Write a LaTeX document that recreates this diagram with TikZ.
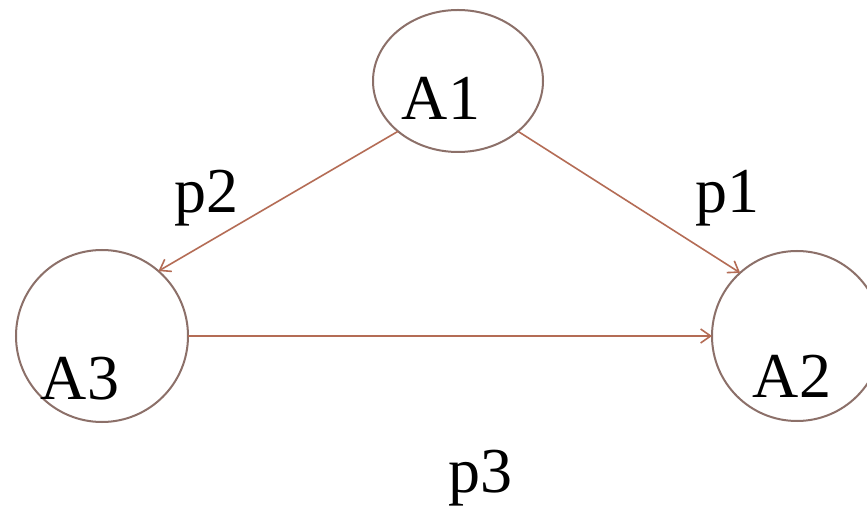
\documentclass[tikz,border=0pt]{standalone}
\usepackage{fontspec}
\setmainfont{Liberation Serif}
\usetikzlibrary{shapes.geometric,arrows.meta}
\definecolor{ringcol}{RGB}{140,112,105}
\definecolor{arrcol}{RGB}{180,108,85}
\begin{document}
\begin{tikzpicture}[x=0.5pt,y=-0.5pt,
  ring/.style={draw=ringcol,line width=1pt,inner sep=0pt,outer sep=0pt},
  conn/.style={draw=arrcol,line width=0.8pt,-{Straight Barb[length=5pt,width=7pt]}},
  lbl/.style={anchor=base,inner sep=0pt,font=\fontsize{32}{38}\selectfont}]
\clip (0,0) rectangle (867,507);
\fill[white] (0,0) rectangle (867,507);
\node[ring,ellipse,minimum width=85pt,minimum height=71pt] (A1) at (458,81) {};
\node[ring,circle,minimum size=86pt] (A3) at (102,336) {};
\node[ring,circle,minimum size=85pt] (A2) at (797,336) {};
\node[lbl] (tA1) at (441,120) {A1};
\node[lbl] (tA3) at (80,400) {A3};
\node[lbl] (tA2) at (792,398) {A2};
\node[lbl] (p2) at (206,213) {p2};
\node[lbl] (p1) at (727,213) {p1};
\node[lbl] (p3) at (480,492) {p3};
\draw[conn] (A1.220.7) -- (A3.49.5);
\draw[conn] (A1.320.6) -- (A2.132.5);
\draw[conn] (A3.east) -- (A2.west);
\end{tikzpicture}
\end{document}
